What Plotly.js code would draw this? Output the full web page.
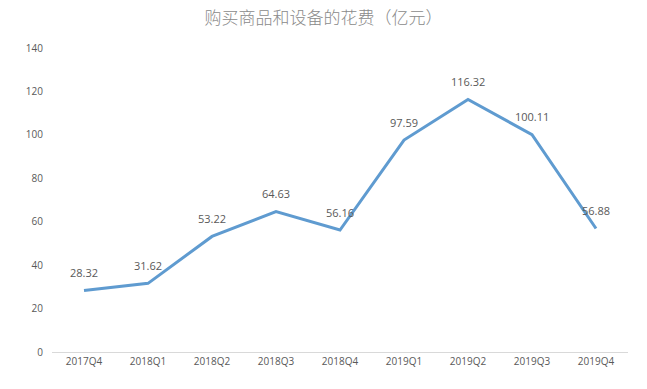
<!DOCTYPE html>
<html>
<head>
<meta charset="utf-8">
<script src="https://cdn.plot.ly/plotly-3.0.1.min.js"></script>
<style>html,body{margin:0;padding:0;background:#fff;}#chart{width:647px;height:389px;}</style>
</head>
<body>
<div id="chart"></div>
<script>
const quarters = ["2017Q4","2018Q1","2018Q2","2018Q3","2018Q4","2019Q1","2019Q2","2019Q3","2019Q4"];
const spending = [28.32, 31.62, 53.22, 64.63, 56.16, 97.59, 116.32, 100.11, 56.88];
const titleText = "购买商品和设备的花费（亿元）";
const yTicks = [0, 20, 40, 60, 80, 100, 120, 140];

const trace = {
  x: quarters,
  y: spending,
  type: "scatter",
  mode: "lines",
  line: {color: "#5F9BD0", width: 3},
  hoverinfo: "skip"
};

const annotations = quarters.map((q, i) => ({
  x: q, y: spending[i], xref: "x", yref: "y",
  text: spending[i].toFixed(2),
  showarrow: false, yshift: 18,
  font: {family: "Open Sans, Liberation Sans, sans-serif", size: 11, color: "#595959"}
}));

const layout = {
  width: 647, height: 389,
  margin: {l: 52, r: 19, t: 48, b: 37},
  paper_bgcolor: "#ffffff",
  plot_bgcolor: "#ffffff",
  showlegend: false,
  title: {
    text: titleText,
    x: 0.5, xanchor: "center", y: 0.953, yanchor: "middle",
    font: {family: "Noto Sans CJK SC, sans-serif", size: 17, color: "#8a8a8a", weight: 300}
  },
  xaxis: {
    type: "category",
    range: [-0.5, 8.5],
    showgrid: false,
    showline: true, linecolor: "#d9d9d9", linewidth: 1,
    zeroline: false,
    ticks: "",
    tickfont: {family: "Open Sans, Liberation Sans, sans-serif", size: 10, color: "#595959"},
    fixedrange: true
  },
  yaxis: {
    range: [0, 140],
    tickvals: yTicks,
    showgrid: false,
    zeroline: false,
    showline: false,
    ticks: "",
    ticklabelstandoff: 8,
    tickfont: {family: "Open Sans, Liberation Sans, sans-serif", size: 10, color: "#595959"},
    fixedrange: true
  },
  annotations: annotations
};

Plotly.newPlot("chart", [trace], layout, {displayModeBar: false, staticPlot: true});
</script>
</body>
</html>
